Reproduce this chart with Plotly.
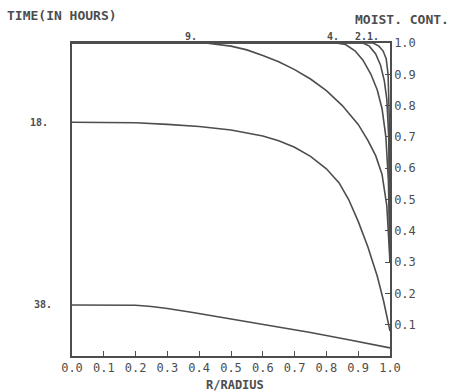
import plotly.graph_objects as go

# Time labels (hours) and moisture-content profiles vs r/radius
times = ["1.", "2.", "4.", "9.", "18.", "38."]

r_1 = [0.0, 0.90, 0.947, 0.965, 0.978, 0.988, 0.994, 0.998, 1.0]
m_1 = [1.0, 1.0, 1.0, 0.99, 0.975, 0.95, 0.90, 0.75, 0.30]

r_2 = [0.0, 0.88, 0.915, 0.935, 0.955, 0.97, 0.982, 0.99, 0.996, 1.0]
m_2 = [1.0, 1.0, 1.0, 0.99, 0.965, 0.93, 0.88, 0.82, 0.70, 0.30]

r_4 = [0.0, 0.80, 0.83, 0.86, 0.89, 0.915, 0.94, 0.96, 0.975, 0.987, 0.995, 1.0]
m_4 = [1.0, 1.0, 1.0, 0.995, 0.975, 0.945, 0.90, 0.85, 0.79, 0.70, 0.56, 0.30]

r_9 = [0.0, 0.35, 0.42, 0.50, 0.55, 0.60, 0.65, 0.70, 0.75, 0.80, 0.85, 0.90, 0.93, 0.955, 0.975, 0.99, 1.0]
m_9 = [1.0, 1.0, 1.0, 0.99, 0.978, 0.96, 0.94, 0.915, 0.885, 0.848, 0.80, 0.74, 0.69, 0.64, 0.58, 0.48, 0.30]

r_18 = [0.0, 0.10, 0.20, 0.30, 0.40, 0.50, 0.60, 0.65, 0.70, 0.75, 0.80, 0.84, 0.87, 0.90, 0.93, 0.96, 0.98, 1.0]
m_18 = [0.747, 0.747, 0.745, 0.740, 0.733, 0.722, 0.703, 0.688, 0.667, 0.638, 0.598, 0.553, 0.50, 0.43, 0.35, 0.255, 0.175, 0.08]

r_38 = [0.0, 0.10, 0.20, 0.25, 0.30, 0.38, 0.48, 0.59, 0.67, 0.75, 0.87, 1.0]
m_38 = [0.163, 0.163, 0.162, 0.158, 0.152, 0.139, 0.122, 0.103, 0.09, 0.075, 0.052, 0.026]

x_ticks = [0.0, 0.1, 0.2, 0.3, 0.4, 0.5, 0.6, 0.7, 0.8, 0.9, 1.0]
y_ticks = [0.1, 0.2, 0.3, 0.4, 0.5, 0.6, 0.7, 0.8, 0.9, 1.0]

# label anchor positions: top labels at r where curve leaves 1.0
top_label_r = {"9.": 0.375, "4.": 0.82, "2.": 0.91, "1.": 0.947}

ink = "#4d4d4d"
mono = "DejaVu Sans Mono"
font_tick = dict(family=mono, size=12, color=ink)
font_title = dict(family=mono, size=13, color=ink)
font_small = dict(family=mono, size=10, color=ink)

fig = go.Figure()
for r, m in [(r_1, m_1), (r_2, m_2), (r_4, m_4), (r_9, m_9), (r_18, m_18), (r_38, m_38)]:
    fig.add_trace(go.Scatter(x=r, y=m, mode="lines", line=dict(color=ink, width=1.6),
                             showlegend=False, hoverinfo="skip"))

for lab, rx in top_label_r.items():
    fig.add_annotation(x=rx, y=1.0, xref="x", yref="y", text="<b>" + lab + "</b>", showarrow=False,
                       yanchor="bottom", xanchor="center", yshift=-1, font=font_small)

fig.add_annotation(x=0.0, y=m_18[0], xref="x", yref="y", text="<b>18.</b>", showarrow=False,
                   xanchor="right", xshift=-22, yanchor="middle", font=font_small)
fig.add_annotation(x=0.0, y=m_38[0], xref="x", yref="y", text="<b>38.</b>", showarrow=False,
                   xanchor="right", xshift=-18, yanchor="middle", font=font_small)

fig.add_annotation(x=0, y=1, xref="paper", yref="paper", text="<b>TIME(IN HOURS)</b>", showarrow=False,
                   xanchor="left", yanchor="bottom", xshift=-67, yshift=18, font=font_title)
fig.add_annotation(x=1, y=1, xref="paper", yref="paper", text="<b>MOIST. CONT.</b>", showarrow=False,
                   xanchor="right", yanchor="bottom", xshift=61, yshift=14, font=font_title)
fig.add_annotation(x=0.5, y=0, xref="paper", yref="paper", text="<b>R/RADIUS</b>", showarrow=False,
                   xanchor="center", yanchor="top", xshift=4, yshift=-20,
                   font=dict(family=mono, size=12, color=ink))

fig.update_xaxes(range=[0, 1.0], tickvals=x_ticks, ticktext=[f"{v:.1f}" for v in x_ticks],
                 showline=True, linecolor=ink, linewidth=1.5, mirror=True,
                 ticks="inside", ticklen=5, tickcolor=ink, tickwidth=1.3,
                 showgrid=False, zeroline=False, tickfont=font_tick)
fig.update_yaxes(range=[0, 1.0], tickvals=y_ticks, ticktext=[f"{v:.1f}" for v in y_ticks], side="right",
                 showline=True, linecolor=ink, linewidth=1.5, mirror=True,
                 ticks="inside", ticklen=5, tickcolor=ink, tickwidth=1.3,
                 showgrid=False, zeroline=False, tickfont=font_tick)

fig.update_layout(width=453, height=392, margin=dict(l=72, r=63, t=43, b=36),
                  paper_bgcolor="white", plot_bgcolor="white")

fig.write_html("out.html")
